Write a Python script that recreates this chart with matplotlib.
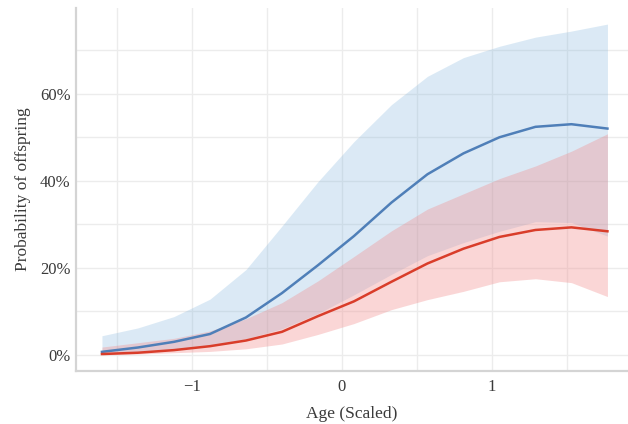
import numpy as np
import matplotlib
matplotlib.use('Agg')
import matplotlib.pyplot as plt
from matplotlib.ticker import FuncFormatter, MultipleLocator

# scaled age grid
age = [-1.6, -1.36, -1.12, -0.88, -0.64, -0.40, -0.16, 0.08,
       0.33, 0.57, 0.81, 1.05, 1.29, 1.53, 1.77]

# blue group: mean and interval (%)
blue_mean = [0.7, 1.7, 3.0, 4.8, 8.6, 14.2, 20.6, 27.3, 35.0, 41.5, 46.3, 50.0, 52.4, 53.0, 52.0]
blue_hi = [4.4, 6.2, 8.8, 12.8, 19.6, 29.6, 39.8, 49.0, 57.5, 64.0, 68.3, 70.9, 73.0, 74.4, 76.0]
blue_lo = [0.2, 0.6, 1.3, 2.2, 3.7, 6.0, 9.5, 13.8, 18.5, 22.8, 25.8, 28.4, 30.6, 30.4, 27.3]

# red group: mean and interval (%)
red_mean = [0.2, 0.5, 1.1, 2.0, 3.3, 5.3, 8.9, 12.3, 16.8, 21.0, 24.4, 27.1, 28.7, 29.3, 28.4]
red_hi = [1.8, 2.8, 3.8, 5.5, 8.3, 12.0, 17.0, 22.6, 28.5, 33.5, 37.0, 40.5, 43.4, 46.8, 50.8]
red_lo = [0.0, 0.2, 0.5, 0.8, 1.4, 2.5, 4.7, 7.2, 10.4, 12.7, 14.6, 16.8, 17.5, 16.6, 13.4]

plt.rcParams['font.family'] = ['Liberation Serif', 'DejaVu Serif']
txt = '#3a3a3a'

fig = plt.figure(figsize=(6.28, 4.24), dpi=100)
ax = fig.add_axes([76/628, 1 - 371/424, 1 - 76/628, (371 - 8)/424])

a = np.array(age)
ax.fill_between(a, np.array(blue_lo)/100, np.array(blue_hi)/100,
                color='#7fb3dc', alpha=0.28, linewidth=0, zorder=2)
ax.fill_between(a, np.array(red_lo)/100, np.array(red_hi)/100,
                color='#f28b8b', alpha=0.35, linewidth=0, zorder=3)
ax.plot(a, np.array(blue_mean)/100, color='#4f7fb8', lw=1.8, zorder=4)
ax.plot(a, np.array(red_mean)/100, color='#d93d2a', lw=1.8, zorder=4)

ax.set_xlim(-1.773, 1.907)
ax.set_ylim(-0.037, 0.797)
ax.xaxis.set_major_locator(MultipleLocator(1))
ax.xaxis.set_minor_locator(MultipleLocator(0.5))
ax.yaxis.set_major_locator(MultipleLocator(0.2))
ax.yaxis.set_minor_locator(MultipleLocator(0.1))
ax.yaxis.set_major_formatter(FuncFormatter(lambda v, p: f'{v*100:.0f}%'))

ax.grid(True, which='both', color='#ececec', lw=1.0, zorder=0)
ax.set_axisbelow(True)
for s in ['top', 'right']:
    ax.spines[s].set_visible(False)
for s in ['left', 'bottom']:
    ax.spines[s].set_color('#d4d4d4')
    ax.spines[s].set_linewidth(1.6)

ax.tick_params(which='both', length=0, labelsize=12, colors=txt)
ax.tick_params(axis='y', pad=4)
ax.tick_params(axis='x', pad=6)
ax.set_xlabel('Age (Scaled)', fontsize=12.5, color=txt, labelpad=8)
ax.set_ylabel('Probability of offspring', fontsize=12.5, color=txt, labelpad=6)

fig.savefig('out.png', dpi=100)
